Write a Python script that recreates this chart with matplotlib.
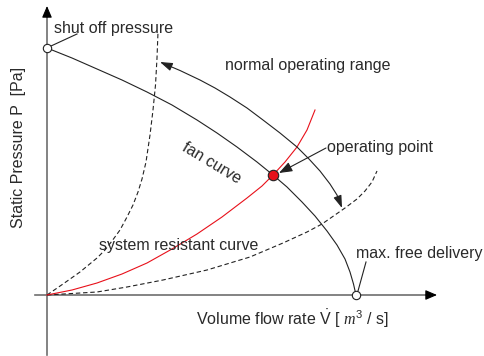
import matplotlib.pyplot as plt
from matplotlib.patches import FancyArrowPatch
from matplotlib.path import Path

plt.rcParams['font.family'] = ['Liberation Sans', 'DejaVu Sans']
plt.rcParams['mathtext.fontset'] = 'custom'
plt.rcParams['mathtext.rm'] = 'Liberation Sans'
plt.rcParams['mathtext.it'] = 'Liberation Serif:italic'
plt.rcParams['mathtext.bf'] = 'Liberation Sans:bold'

# fan curve (flow, pressure) in sketch units
fan_q = [0, 25, 50, 75, 100, 125, 150, 170, 190, 210, 226, 240, 255, 268,
         280, 290, 298, 303, 306.5, 309]
fan_p = [247, 237, 226, 215, 203, 190, 175, 162, 148, 133, 120, 108, 93, 79,
         64, 50, 36, 23, 11, 0]

# steep system curve (dashed)
steep_q = [0, 16, 33, 50, 58, 65, 73, 80, 86, 91, 95, 99, 103, 106, 108.5,
           110, 111]
steep_p = [0, 11, 23, 37, 45, 54, 65, 78, 90, 103, 116, 133, 160, 185, 210,
           237, 263]

# system resistance curve (red)
sys_q = [0, 25, 50, 75, 100, 125, 150, 175, 200, 215, 226, 238, 250, 260, 268]
sys_p = [0, 5, 12, 21, 32, 46, 61, 78, 97, 109, 120, 133, 148, 165, 185]

# flat system curve (dashed)
flat_q = [0, 50, 80, 116, 160, 203, 236, 260, 275, 298, 310, 318, 325, 330]
flat_p = [0, 3, 8, 15, 25, 38, 52, 63, 71, 87, 96, 104, 113, 124]

# normal operating range arrow
range_q = [113, 133, 153, 168, 183, 200, 216, 233, 250, 262, 273, 283, 290, 295]
range_p = [233, 224.5, 215, 207, 198, 187, 175, 162, 148, 136, 124, 111, 100, 87]

shutoff = (0, 247)
max_free = (309, 0)
op_point = (226, 120)

ink = '#222222'
txt = '#2a2a2a'
fs = 11.5

fig = plt.figure(figsize=(4.84, 3.56), dpi=100)
ax = fig.add_axes([0, 0, 1, 1])
ax.set_xlim(-47, 437)
ax.set_ylim(-61, 295)
ax.axis('off')

# axes
ax.plot([0, 0], [-60, 282], color='#6e6e6e', lw=1.2, zorder=1)
ax.plot([-12, 0, 382], [0, 0, 0], color='#6e6e6e', lw=1.2, zorder=1)
ax.annotate('', xy=(0, 289), xytext=(0, 278),
            arrowprops=dict(arrowstyle='-|>,head_length=0.7,head_width=0.3',
                            color='black', lw=0.8, shrinkA=0, shrinkB=0))
ax.annotate('', xy=(390, 0), xytext=(379, 0),
            arrowprops=dict(arrowstyle='-|>,head_length=0.7,head_width=0.3',
                            color='black', lw=0.8, shrinkA=0, shrinkB=0))

# curves
ax.plot(fan_q, fan_p, color=ink, lw=0.8, zorder=2)
ax.plot(steep_q, steep_p, color=ink, lw=0.8, ls=(0, (4, 2.5)), zorder=2)
ax.plot(flat_q, flat_p, color=ink, lw=0.8, ls=(0, (4, 2.5)), zorder=2)
ax.plot(sys_q, sys_p, color='#e8101a', lw=0.8, zorder=2)

# operating range arrow
verts = list(zip(range_q, range_p))
path = Path(verts, [Path.MOVETO] + [Path.LINETO] * (len(verts) - 1))
ax.add_patch(FancyArrowPatch(path=path,
                             arrowstyle='<|-|>,head_length=3,head_width=1.0',
                             color=ink, lw=0.8, mutation_scale=2.5, zorder=3))

# leaders
ax.plot([4, 30], [249, 261], color=ink, lw=0.8)
ax.plot([319, 311], [33, 4], color=ink, lw=0.8)
ax.annotate('', xy=(232, 122), xytext=(279, 147),
            arrowprops=dict(arrowstyle='-|>,head_length=0.8,head_width=0.3',
                            color=ink, lw=0.8, shrinkA=0, shrinkB=0))

# points
ax.plot(*shutoff, 'o', ms=6, mfc='white', mec=ink, mew=0.8, zorder=4)
ax.plot(*max_free, 'o', ms=6, mfc='white', mec=ink, mew=0.8, zorder=4)
ax.plot(*op_point, 'o', ms=7.5, mfc='#e8101a', mec=ink, mew=0.8, zorder=4)

# labels
ax.text(7, 262, 'shut off pressure', fontsize=fs, color=txt, va='baseline')
ax.text(178, 225, 'normal operating range', fontsize=fs, color=txt, va='baseline')
ax.text(165, 132, 'fan curve', fontsize=fs, color=txt, rotation=-31,
        ha='center', va='center', rotation_mode='anchor')
ax.text(280, 143, 'operating point', fontsize=fs, color=txt, va='baseline')
ax.text(52, 45, 'system resistant curve', fontsize=fs, color=txt, va='baseline')
ax.text(309, 37, 'max. free delivery', fontsize=fs, color=txt, va='baseline')
ax.text(-29, 148, 'Static Pressure P  [Pa]', fontsize=fs, color=txt,
        rotation=90, ha='center', va='center')
ax.text(149, -30, 'Volume flow rate $\\dot{\\mathrm{V}}$ [ $m^3$ / s]',
        fontsize=fs, color=txt, va='baseline')

fig.savefig('out.png', dpi=100)
